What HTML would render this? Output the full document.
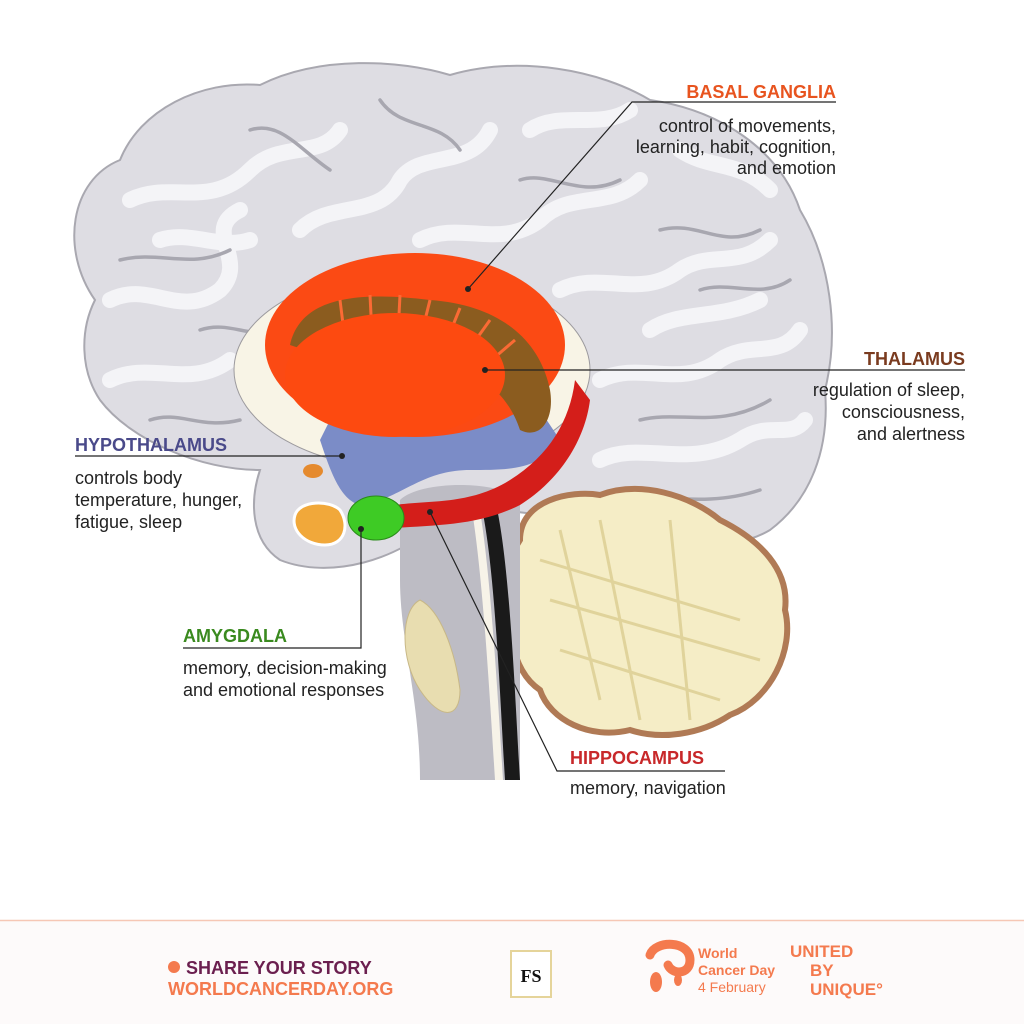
<!DOCTYPE html>
<html><head><meta charset="utf-8"><style>
html,body{margin:0;padding:0;background:#fff;width:1024px;height:1024px;overflow:hidden;font-family:"Liberation Sans",sans-serif}
svg{position:absolute;left:0;top:0}
</style></head><body>
<svg width="1024" height="1024" viewBox="0 0 1024 1024" xmlns="http://www.w3.org/2000/svg">
<rect width="1024" height="1024" fill="#fff"/>
<rect x="0" y="920" width="1024" height="104" fill="#fdfafa"/>
<line x1="0" y1="920.5" x2="1024" y2="920.5" stroke="#f6c7b5" stroke-width="1.5"/>
<path d="M95,300 C60,250 70,180 120,160 C140,110 200,80 260,85 C320,55 400,60 450,75 C520,55 600,70 650,100 C720,110 780,150 800,210 C830,260 840,330 825,390 C830,450 810,500 770,530 C720,560 640,540 560,520 C520,510 480,505 440,520 C400,560 330,580 280,560 C250,540 250,500 260,470 C200,470 130,440 100,400 C80,370 80,330 95,300Z" fill="#dedde3" stroke="#a9a8b0" stroke-width="2"/>
<g fill="none" stroke="#f6f6f9" stroke-width="16" stroke-linecap="round" opacity="0.95">
<path d="M110,300 C150,280 180,320 220,290 C250,260 200,230 240,210"/>
<path d="M130,200 C170,180 210,210 250,170 C280,140 320,160 340,130"/>
<path d="M300,230 C330,200 380,220 400,180 C420,150 470,170 490,130"/>
<path d="M420,240 C460,220 500,250 540,220 C570,190 610,210 640,180"/>
<path d="M560,290 C600,270 640,300 680,270 C710,250 740,270 770,240"/>
<path d="M600,380 C640,360 680,390 720,360 C750,340 780,360 800,330"/>
<path d="M600,460 C640,440 690,470 740,440 C770,420 790,440 805,420"/>
<path d="M530,130 C560,110 600,130 630,110"/>
<path d="M680,150 C710,170 740,160 770,190"/>
<path d="M110,380 C150,360 190,390 230,360"/>
<path d="M160,240 C190,230 220,250 250,240"/>
<path d="M650,330 C680,310 720,320 760,300"/>
</g>
<g fill="none" stroke="#a8a7b0" stroke-width="3.5" stroke-linecap="round">
<path d="M120,260 C160,250 190,270 230,250"/>
<path d="M250,130 C280,120 300,150 330,170"/>
<path d="M380,100 C400,130 440,120 460,150"/>
<path d="M520,180 C550,170 580,200 620,180"/>
<path d="M660,230 C700,220 720,250 760,230"/>
<path d="M640,420 C680,410 720,430 770,400"/>
<path d="M150,420 C180,410 200,430 240,420"/>
<path d="M600,500 C650,490 700,510 760,490"/>
<path d="M200,330 C230,320 250,340 280,330"/>
<path d="M700,290 C730,280 760,300 790,280"/>
</g>
<path d="M520,540 C520,500 570,490 600,495 C640,480 690,495 720,520 C760,540 790,570 785,610 C795,650 770,700 730,715 C700,735 660,740 630,730 C590,740 550,720 540,690 C510,670 505,620 515,590 C505,570 510,555 520,540Z" fill="#f5edc6" stroke="#b07a55" stroke-width="6"/>
<g fill="none" stroke="#e0d39b" stroke-width="3">
<path d="M540,560 L740,620"/><path d="M550,600 L760,660"/><path d="M560,650 L720,700"/>
<path d="M600,520 L640,720"/><path d="M670,520 L690,720"/><path d="M560,530 L600,700"/>
</g>
<path d="M400,500 C420,480 500,480 520,500 L520,780 L420,780 C420,700 400,640 400,580Z" fill="#bdbcc4"/>
<path d="M480,500 C495,560 500,700 505,780 L520,780 C515,700 510,560 495,500Z" fill="#1a1a1a"/>
<path d="M470,500 C482,560 490,700 495,780 L503,780 C498,700 490,560 478,500Z" fill="#f7f3e8"/>
<path d="M420,600 C400,610 400,660 420,690 C440,720 460,720 460,690 C455,650 440,610 420,600Z" fill="#e8ddb0" stroke="#c8b887"/>
<ellipse cx="412" cy="370" rx="178" ry="100" fill="#f8f4e6" stroke="#9c9a9e"/>
<path d="M320,440 C330,470 340,500 360,505 C400,500 420,470 470,470 C510,470 540,470 560,440 L540,410 L330,420Z" fill="#7b8cc7"/>
<ellipse cx="415" cy="345" rx="150" ry="92" fill="#fb4a14"/>
<path d="M290,345 C300,300 350,290 430,300 C500,305 540,340 550,390 C555,420 540,440 520,430 C510,400 490,380 460,370 C400,350 330,360 290,345Z" fill="#8b5c1f"/>
<g stroke="#fb6a34" stroke-width="3"><line x1="340" y1="300" x2="345" y2="340"/><line x1="370" y1="295" x2="372" y2="335"/><line x1="400" y1="295" x2="398" y2="335"/><line x1="430" y1="300" x2="420" y2="340"/><line x1="460" y1="308" x2="445" y2="345"/><line x1="490" y1="320" x2="465" y2="355"/><line x1="515" y1="340" x2="480" y2="370"/></g>
<ellipse cx="395" cy="375" rx="110" ry="62" fill="#fd4a10"/>
<path d="M395,505 C430,500 470,505 510,480 C550,455 570,420 575,380 L590,400 C585,440 560,480 520,505 C480,525 440,525 395,528Z" fill="#d41e1a"/>
<ellipse cx="313" cy="471" rx="10" ry="7" fill="#e58a2e"/>
<path d="M295,515 C300,500 330,500 340,510 C350,525 345,545 325,545 C305,545 290,530 295,515Z" fill="#f1a83a" stroke="#fff" stroke-width="3"/>
<ellipse cx="376" cy="518" rx="28" ry="22" fill="#3ecb25" stroke="#2a8a1a"/>
<g stroke="#222" stroke-width="1.2" fill="none">
<polyline points="836,102 632,102 468,289"/>
<polyline points="965,370 485,370"/>
<polyline points="75,456 342,456"/>
<polyline points="183,648 361,648 361,529"/>
<polyline points="725,771 557,771 430,512"/>
</g>
<g fill="#222"><circle cx="468" cy="289" r="3"/><circle cx="485" cy="370" r="3"/><circle cx="342" cy="456" r="3"/><circle cx="361" cy="529" r="3"/><circle cx="430" cy="512" r="3"/></g>
<g font-family="Liberation Sans, sans-serif" font-size="18" fill="#222">
<text x="836" y="98" text-anchor="end" font-weight="bold" fill="#e8541f">BASAL GANGLIA</text>
<text x="836" y="132" text-anchor="end">control of movements,</text>
<text x="836" y="153" text-anchor="end">learning, habit, cognition,</text>
<text x="836" y="174" text-anchor="end">and emotion</text>
<text x="965" y="365" text-anchor="end" font-weight="bold" fill="#7a3b1f">THALAMUS</text>
<text x="965" y="396" text-anchor="end">regulation of sleep,</text>
<text x="965" y="418" text-anchor="end">consciousness,</text>
<text x="965" y="440" text-anchor="end">and alertness</text>
<text x="75" y="451" font-weight="bold" fill="#4a4a8a">HYPOTHALAMUS</text>
<text x="75" y="484">controls body</text>
<text x="75" y="506">temperature, hunger,</text>
<text x="75" y="528">fatigue, sleep</text>
<text x="183" y="642" font-weight="bold" fill="#3a8a1f">AMYGDALA</text>
<text x="183" y="674">memory, decision-making</text>
<text x="183" y="696">and emotional responses</text>
<text x="570" y="764" font-weight="bold" fill="#c8282a">HIPPOCAMPUS</text>
<text x="570" y="794">memory, navigation</text>
</g>
<circle cx="174" cy="967" r="6" fill="#f47a4e"/>
<text x="186" y="974" font-family="Liberation Sans, sans-serif" font-weight="bold" font-size="18" fill="#6b1f4f">SHARE YOUR STORY</text>
<text x="168" y="995" font-family="Liberation Sans, sans-serif" font-weight="bold" font-size="18" fill="#f47a4e">WORLDCANCERDAY.ORG</text>
<rect x="511" y="951" width="40" height="46" fill="#fff" stroke="#e5d49a" stroke-width="2"/>
<text x="531" y="982" text-anchor="middle" font-family="Liberation Serif, serif" font-weight="bold" font-size="18" fill="#111">FS</text>
<path d="M650,955 C655,940 690,940 690,960 C690,975 672,975 668,965" fill="none" stroke="#f47a4e" stroke-width="9" stroke-linecap="round"/>
<ellipse cx="656" cy="982" rx="6" ry="10" fill="#f47a4e"/>
<ellipse cx="678" cy="980" rx="4" ry="6" fill="#f47a4e"/>
<g font-family="Liberation Sans, sans-serif" font-size="14" fill="#f47a4e">
<text x="698" y="958" font-weight="bold">World</text>
<text x="698" y="975" font-weight="bold">Cancer Day</text>
<text x="698" y="992">4 February</text>
</g>
<g font-family="Liberation Sans, sans-serif" font-size="17" font-weight="bold" fill="#f47a4e">
<text x="790" y="957">UNITED</text><text x="810" y="976">BY</text><text x="810" y="995">UNIQUE°</text>
</g>
</svg>
</body></html>
